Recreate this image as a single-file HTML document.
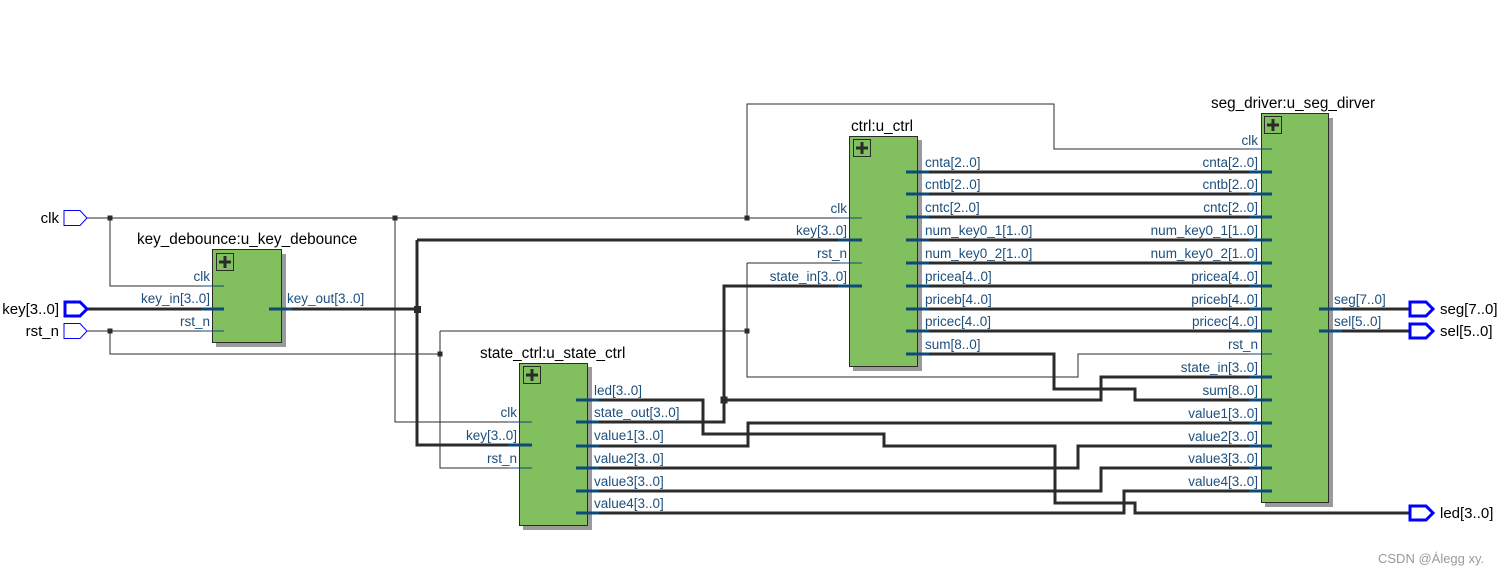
<!DOCTYPE html>
<html><head><meta charset="utf-8"><style>
html,body{margin:0;padding:0;background:#fff;width:1505px;height:575px;overflow:hidden}
svg{display:block;font-family:"Liberation Sans","DejaVu Sans",sans-serif}
.w{stroke:#2b2b2b;stroke-width:1;fill:none}
.b{stroke:#2b2b2b;stroke-width:3;fill:none}
.ps{stroke:#0d4a78;stroke-width:1}
.pb{stroke:#0d4a78;stroke-width:3}
.pl{fill:#1d4f7c;font-size:13.5px}
.t{fill:#000;font-size:15.3px}
.box{fill:#82bf5e;stroke:#2b2b2b;stroke-width:1}
.sh{fill:#9a9a9a}
.port{fill:#fff;stroke:#0000ff}
</style></head><body>
<svg width="1505" height="575" viewBox="0 0 1505 575">
<g class="w">
<polyline points="87,218 849,218"/>
<polyline points="110,218 110,286 224,286"/>
<polyline points="395,218 395,422 532,422"/>
<polyline points="747,218 747,104 1054,104 1054,149 1272,149"/>
<polyline points="87,331 224,331"/>
<polyline points="110,331 110,354 440,354"/>
<polyline points="440,331 440,468 532,468"/>
<polyline points="440,331 747,331"/>
<polyline points="747,263 862,263"/>
<polyline points="747,263 747,377 1078,377 1078,354 1272,354"/>
</g>
<g class="b">
<polyline points="87,309 224,309"/>
<polyline points="269,309 417,309"/>
<polyline points="417,240 417,445 532,445"/>
<polyline points="417,240 849,240"/>
<polyline points="906,172 1272,172"/>
<polyline points="906,194 1272,194"/>
<polyline points="906,217 1272,217"/>
<polyline points="906,240 1272,240"/>
<polyline points="906,263 1272,263"/>
<polyline points="906,286 1272,286"/>
<polyline points="906,309 1272,309"/>
<polyline points="906,331 1272,331"/>
<polyline points="906,354 1054,354 1054,389 1135,389 1135,400 1272,400"/>
<polyline points="576,422 724,422 724,286 862,286"/>
<polyline points="724,400 1101,400 1101,377 1272,377"/>
<polyline points="576,400 703,400 703,434 884,434 884,446 1055,446 1055,503 1135,503 1135,513 1410,513"/>
<polyline points="576,446 748,446 748,423 1272,423"/>
<polyline points="576,468 1078,468 1078,446 1272,446"/>
<polyline points="576,491 1101,491 1101,468 1272,468"/>
<polyline points="576,513 1124,513 1124,491 1272,491"/>
<polyline points="1319,309 1410,309"/>
<polyline points="1319,331 1410,331"/>
</g>
<g fill="#2b2b2b">
<rect x="107.5" y="215.5" width="5" height="5"/>
<rect x="392.5" y="215.5" width="5" height="5"/>
<rect x="744.5" y="215.5" width="5" height="5"/>
<rect x="107.5" y="328.5" width="5" height="5"/>
<rect x="437.5" y="351.5" width="5" height="5"/>
<rect x="744.5" y="328.5" width="5" height="5"/>
<rect x="414" y="306" width="7" height="7"/>
<rect x="720.5" y="396.5" width="7" height="7"/>
</g>
<g>
<polygon class="port" stroke-width="1" points="64,210.5 80,210.5 87,218 80,225.5 64,225.5"/>
<polygon class="port" stroke-width="3" points="65,302 80,302 87,309 80,316 65,316"/>
<polygon class="port" stroke-width="1" points="64,323.5 80,323.5 87,331 80,338.5 64,338.5"/>
<polygon class="port" stroke-width="3" points="1410,302 1426,302 1433,309 1426,316 1410,316"/>
<polygon class="port" stroke-width="3" points="1410,324 1426,324 1433,331 1426,338 1410,338"/>
<polygon class="port" stroke-width="3" points="1410,506 1426,506 1433,513 1426,520 1410,520"/>
</g>
<g font-size="15" fill="#000">
<text x="59" y="223" text-anchor="end">clk</text>
<text x="59" y="314" text-anchor="end">key[3..0]</text>
<text x="59" y="336" text-anchor="end">rst_n</text>
<text x="1440" y="314">seg[7..0]</text>
<text x="1440" y="336">sel[5..0]</text>
<text x="1440" y="518">led[3..0]</text>
</g>
<text x="1378" y="563" font-size="13" fill="#9a9a9a">CSDN @Álegg xy.</text>

<rect class="sh" x="216" y="254" width="70" height="93"/>
<rect class="box" x="212.5" y="249.5" width="69" height="93"/>
<rect x="216.5" y="253.5" width="17" height="17" fill="none" stroke="#2b2b2b"/>
<path d="M225 256v12M219 262h12" stroke="#2b2b2b" stroke-width="3"/>
<text class="t" x="137" y="244">key_debounce:u_key_debounce</text>
<line class="ps" x1="201" y1="286" x2="224" y2="286"/>
<line class="pb" x1="201" y1="309" x2="224" y2="309"/>
<line class="ps" x1="201" y1="331" x2="224" y2="331"/>
<line class="pb" x1="269" y1="309" x2="292" y2="309"/>
<g class="pl" text-anchor="end">
<text x="210" y="281">clk</text><text x="210" y="303">key_in[3..0]</text><text x="210" y="326">rst_n</text>
</g>
<text class="pl" x="287" y="303">key_out[3..0]</text>

<rect class="sh" x="853" y="140" width="69" height="231"/>
<rect class="box" x="849.5" y="136.5" width="68" height="230"/>
<rect x="853.5" y="139.5" width="17" height="17" fill="none" stroke="#2b2b2b"/>
<path d="M862 142v12M856 148h12" stroke="#2b2b2b" stroke-width="3"/>
<text class="t" x="851" y="131">ctrl:u_ctrl</text>
<line class="ps" x1="838" y1="218" x2="862" y2="218"/>
<line class="pb" x1="838" y1="240" x2="862" y2="240"/>
<line class="ps" x1="838" y1="263" x2="862" y2="263"/>
<line class="pb" x1="838" y1="286" x2="862" y2="286"/>
<g class="pl" text-anchor="end">
<text x="847" y="213">clk</text><text x="847" y="235">key[3..0]</text><text x="847" y="258">rst_n</text><text x="847" y="281">state_in[3..0]</text>
</g>
<g class="pb">
<line x1="906" y1="172" x2="929" y2="172"/><line x1="906" y1="194" x2="929" y2="194"/>
<line x1="906" y1="217" x2="929" y2="217"/><line x1="906" y1="240" x2="929" y2="240"/>
<line x1="906" y1="263" x2="929" y2="263"/><line x1="906" y1="286" x2="929" y2="286"/>
<line x1="906" y1="309" x2="929" y2="309"/><line x1="906" y1="331" x2="929" y2="331"/>
<line x1="906" y1="354" x2="929" y2="354"/>
</g>
<g class="pl">
<text x="925" y="167">cnta[2..0]</text><text x="925" y="189">cntb[2..0]</text><text x="925" y="212">cntc[2..0]</text>
<text x="925" y="235">num_key0_1[1..0]</text><text x="925" y="258">num_key0_2[1..0]</text><text x="925" y="281">pricea[4..0]</text>
<text x="925" y="304">priceb[4..0]</text><text x="925" y="326">pricec[4..0]</text><text x="925" y="349">sum[8..0]</text>
</g>

<rect class="sh" x="523" y="367" width="69" height="163"/>
<rect class="box" x="519.5" y="363.5" width="68" height="162"/>
<rect x="523.5" y="366.5" width="17" height="17" fill="none" stroke="#2b2b2b"/>
<path d="M532 369v12M526 375h12" stroke="#2b2b2b" stroke-width="3"/>
<text class="t" x="480" y="358">state_ctrl:u_state_ctrl</text>
<line class="ps" x1="508" y1="422" x2="532" y2="422"/>
<line class="pb" x1="508" y1="445" x2="532" y2="445"/>
<line class="ps" x1="508" y1="468" x2="532" y2="468"/>
<g class="pl" text-anchor="end">
<text x="517" y="417">clk</text><text x="517" y="440">key[3..0]</text><text x="517" y="463">rst_n</text>
</g>
<g class="pb">
<line x1="576" y1="400" x2="599" y2="400"/><line x1="576" y1="422" x2="599" y2="422"/>
<line x1="576" y1="446" x2="599" y2="446"/><line x1="576" y1="468" x2="599" y2="468"/>
<line x1="576" y1="491" x2="599" y2="491"/><line x1="576" y1="513" x2="599" y2="513"/>
</g>
<g class="pl">
<text x="594" y="395">led[3..0]</text><text x="594" y="417">state_out[3..0]</text><text x="594" y="440">value1[3..0]</text>
<text x="594" y="463">value2[3..0]</text><text x="594" y="486">value3[3..0]</text><text x="594" y="508">value4[3..0]</text>
</g>

<rect class="sh" x="1265" y="118" width="68" height="389"/>
<rect class="box" x="1261.5" y="113.5" width="67" height="389"/>
<rect x="1264.5" y="116.5" width="17" height="17" fill="none" stroke="#2b2b2b"/>
<path d="M1273 119v12M1267 125h12" stroke="#2b2b2b" stroke-width="3"/>
<text class="t" x="1211" y="108">seg_driver:u_seg_dirver</text>
<line class="ps" x1="1249" y1="149" x2="1272" y2="149"/>
<line class="ps" x1="1249" y1="354" x2="1272" y2="354"/>
<g class="pb">
<line x1="1249" y1="172" x2="1272" y2="172"/><line x1="1249" y1="194" x2="1272" y2="194"/>
<line x1="1249" y1="217" x2="1272" y2="217"/><line x1="1249" y1="240" x2="1272" y2="240"/>
<line x1="1249" y1="263" x2="1272" y2="263"/><line x1="1249" y1="286" x2="1272" y2="286"/>
<line x1="1249" y1="309" x2="1272" y2="309"/><line x1="1249" y1="331" x2="1272" y2="331"/>
<line x1="1249" y1="377" x2="1272" y2="377"/><line x1="1249" y1="400" x2="1272" y2="400"/>
<line x1="1249" y1="423" x2="1272" y2="423"/><line x1="1249" y1="446" x2="1272" y2="446"/>
<line x1="1249" y1="468" x2="1272" y2="468"/><line x1="1249" y1="491" x2="1272" y2="491"/>
<line x1="1319" y1="309" x2="1342" y2="309"/><line x1="1319" y1="331" x2="1342" y2="331"/>
</g>
<g class="pl" text-anchor="end">
<text x="1258" y="145">clk</text><text x="1258" y="167">cnta[2..0]</text><text x="1258" y="189">cntb[2..0]</text>
<text x="1258" y="212">cntc[2..0]</text><text x="1258" y="235">num_key0_1[1..0]</text><text x="1258" y="258">num_key0_2[1..0]</text>
<text x="1258" y="281">pricea[4..0]</text><text x="1258" y="304">priceb[4..0]</text><text x="1258" y="326">pricec[4..0]</text>
<text x="1258" y="349">rst_n</text><text x="1258" y="372">state_in[3..0]</text><text x="1258" y="395">sum[8..0]</text>
<text x="1258" y="418">value1[3..0]</text><text x="1258" y="441">value2[3..0]</text><text x="1258" y="463">value3[3..0]</text>
<text x="1258" y="486">value4[3..0]</text>
</g>
<g class="pl">
<text x="1334" y="304">seg[7..0]</text><text x="1334" y="326">sel[5..0]</text>
</g>
</svg>
</body></html>
